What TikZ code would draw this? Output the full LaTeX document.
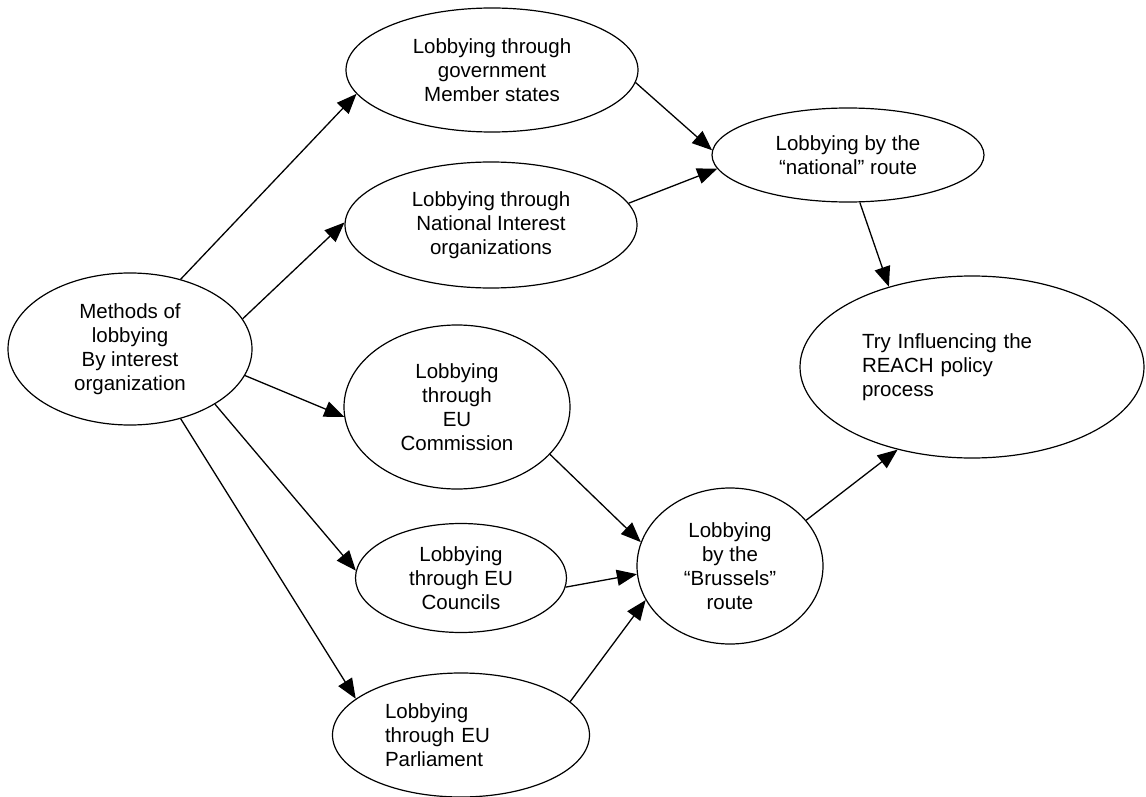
\documentclass[tikz,border=0pt]{standalone}
\usepackage{fontspec}
\setmainfont{Liberation Sans}
\usetikzlibrary{arrows.meta,shapes.geometric}

\begin{document}
\begin{tikzpicture}[
  x=1pt, y=-1pt,
  font=\fontsize{20.5}{24}\selectfont,
  oval/.style={draw, ellipse, line width=1.2pt, inner sep=0pt, align=center},
  arr/.style={-{Triangle[length=20pt,width=16pt]}, line width=1.3pt}
]
\useasboundingbox (0,0) rectangle (1146,797);

\node[oval, minimum width=244pt, minimum height=152pt] (meth) at (130,349)
      {Methods of\\lobbying\\By interest\\organization};
\node[oval, minimum width=292pt, minimum height=124pt] (gov) at (492,70)
      {Lobbying through\\government\\Member states};
\node[oval, minimum width=292pt, minimum height=126pt] (natint) at (491,225)
      {Lobbying through\\National Interest\\organizations};
\node[oval, minimum width=226pt, minimum height=164pt] (comm) at (457,407)
      {Lobbying\\through\\EU\\Commission};
\node[oval, minimum width=211pt, minimum height=109pt] (coun) at (461,578)
      {Lobbying\\through EU\\Councils};
\node[oval, minimum width=257pt, minimum height=124pt, text width=152pt, align=left] (parl) at (461,735)
      {Lobbying\\through EU\\Parliament};
\node[oval, minimum width=272pt, minimum height=94pt] (natroute) at (848,155)
      {Lobbying by the\\“national” route};
\node[oval, minimum width=186pt, minimum height=156pt] (bru) at (730,566)
      {Lobbying\\by the\\“Brussels”\\route};
\node[oval, minimum width=344pt, minimum height=182pt, text width=220pt, align=left] (reach) at (972,367)
      {Try Influencing the\\REACH policy\\process};

% interest organization to the five channels
\draw[arr] (meth.54)  -- (gov.190);
\draw[arr] (meth.15)  -- (natint.179);
\draw[arr] (meth.347) -- (comm.185);
\draw[arr] (meth.327) -- (coun.176);
\draw[arr] (meth.306) -- (parl.161);

% channels to the two routes
\draw[arr] (gov.355)    -- (natroute.178);
\draw[arr] (natint.9)   -- (natroute.186);
\draw[arr] (comm.333)   -- (bru.165);
\draw[arr] (coun.355)   -- (bru.185);
\draw[arr] (parl.17)    -- (bru.202);

\draw[arr] (natroute.284) -- (reach.136);
\draw[arr] (bru.31)       -- (reach.228);
\end{tikzpicture}
\end{document}
